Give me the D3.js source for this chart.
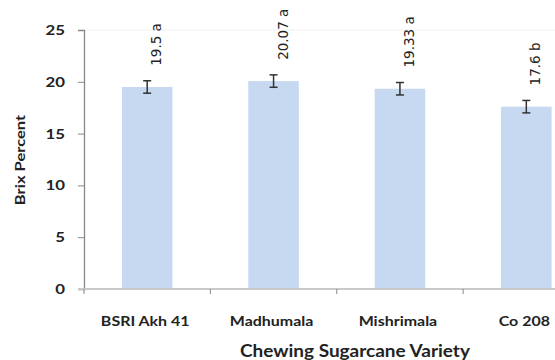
<!DOCTYPE html>
<html><head><meta charset="utf-8">
<script src="https://cdn.jsdelivr.net/npm/d3@7"></script>
<style>body{margin:0;background:#fff}svg{display:block}</style>
</head><body>
<svg id="c" width="555" height="360"></svg>
<script>
const categories = ["BSRI Akh 41", "Madhumala", "Mishrimala", "Co 208"];
const values = [19.5, 20.07, 19.33, 17.6];
const errors = [0.6, 0.6, 0.6, 0.6];
const labels = ["19.5 a", "20.07 a", "19.33 a", "17.6 b"];
const yTicks = [0, 5, 10, 15, 20, 25];

const svg = d3.select("#c");
const x = d3.scaleBand().domain(categories).range([84, 589.5]).paddingInner(0.6).paddingOuter(0.3);
const y = d3.scaleLinear().domain([0, 25]).range([289, 30]);
const axisFont = "Lato, 'Open Sans', sans-serif";

function stretch(sel, f) {
  sel.each(function () {
    const len = this.getComputedTextLength();
    d3.select(this).attr("textLength", len * f).attr("lengthAdjust", "spacingAndGlyphs");
  });
}

// faint top line
svg.append("line").attr("x1", 84).attr("x2", 555).attr("y1", y(25)).attr("y2", y(25))
  .attr("stroke", "#f0f0f0").attr("stroke-width", 1);

// bars
svg.selectAll("rect.bar").data(values).join("rect")
  .attr("x", (d, i) => x(categories[i])).attr("width", x.bandwidth())
  .attr("y", d => y(d)).attr("height", d => y(0) - y(d))
  .attr("fill", "#c6d9f1");

// y axis
const ya = svg.append("g").attr("transform", "translate(84,0)")
  .call(d3.axisLeft(y).tickValues(yTicks).tickSize(6).tickPadding(13));
ya.select(".domain").attr("stroke", "#888").attr("stroke-width", 1.3);
ya.selectAll(".tick line").attr("stroke", "#888");
ya.selectAll(".tick text").attr("font-family", axisFont).attr("font-weight", "bold")
  .attr("font-size", 14).attr("fill", "#222").call(stretch, 1.2);

// x axis
const xa = svg.append("g").attr("transform", `translate(0,${y(0)})`);
xa.append("line").attr("x1", 78).attr("x2", 589.5).attr("y1", 0).attr("y2", 0)
  .attr("stroke", "#c8c8c8").attr("stroke-width", 2);
const step = x.step();
const bounds = d3.range(categories.length + 1).map(i => 84 + i * step);
xa.selectAll("line.tk").data(bounds).join("line").attr("class", "tk")
  .attr("x1", d => d).attr("x2", d => d).attr("y1", 0).attr("y2", 5)
  .attr("stroke", "#888").attr("stroke-width", 1);
xa.selectAll("text.cat").data(categories).join("text").attr("class", "cat")
  .attr("x", d => x(d) + x.bandwidth() / 2 - 2).attr("y", 37)
  .attr("text-anchor", "middle").attr("font-family", axisFont).attr("font-weight", "bold")
  .attr("font-size", 14).attr("fill", "#222").text(d => d).call(stretch, 1.14);

// error bars
const eb = svg.append("g").attr("stroke", "#333").attr("stroke-width", 1.5);
values.forEach((v, i) => {
  const cx = x(categories[i]) + x.bandwidth() / 2;
  eb.append("line").attr("x1", cx).attr("x2", cx).attr("y1", y(v + errors[i])).attr("y2", y(v - errors[i]));
  eb.append("line").attr("x1", cx - 4).attr("x2", cx + 4).attr("y1", y(v + errors[i])).attr("y2", y(v + errors[i]));
  eb.append("line").attr("x1", cx - 4).attr("x2", cx + 4).attr("y1", y(v - errors[i])).attr("y2", y(v - errors[i]));
});

// value labels
svg.selectAll("text.val").data(values).join("text").attr("class", "val")
  .attr("transform", (d, i) => `translate(${x(categories[i]) + x.bandwidth() / 2 + 14},${y(d + errors[i]) - 15}) rotate(-90)`)
  .attr("font-family", "'DejaVu Sans', sans-serif").attr("font-size", 13.5).attr("fill", "#222")
  .text((d, i) => labels[i]);

// axis titles
svg.append("text").attr("transform", "translate(25,160) rotate(-90)").attr("text-anchor", "middle")
  .attr("font-family", axisFont).attr("font-weight", "bold").attr("font-size", 14).attr("fill", "#222")
  .text("Brix Percent").call(stretch, 1.18);
svg.append("text").attr("x", 355).attr("y", 357).attr("text-anchor", "middle")
  .attr("font-family", axisFont).attr("font-weight", "bold").attr("font-size", 16.5).attr("fill", "#222")
  .text("Chewing Sugarcane Variety").call(stretch, 1.15);
</script>
</body></html>
